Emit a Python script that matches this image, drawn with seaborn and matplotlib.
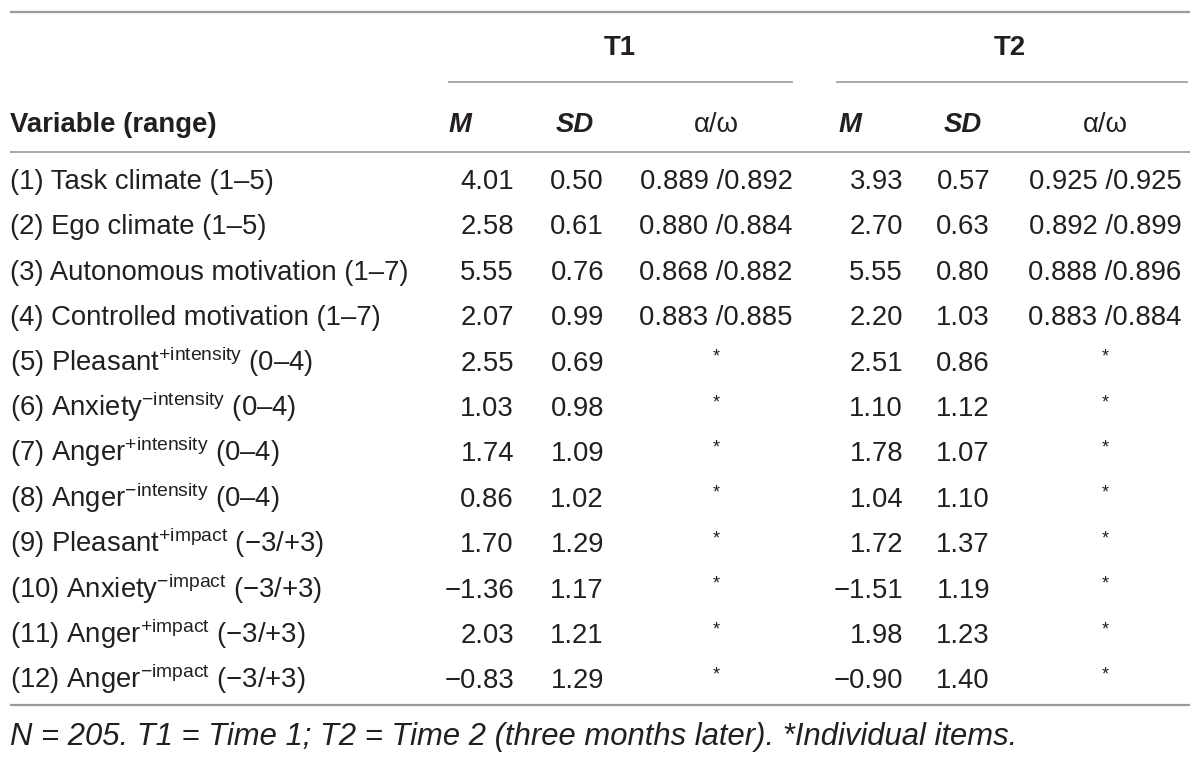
import matplotlib
matplotlib.use("Agg")
import matplotlib.pyplot as plt
import seaborn as sns

# Table content
variables = ["Task climate", "Ego climate", "Autonomous motivation", "Controlled motivation",
             "Pleasant", "Anxiety", "Anger", "Anger",
             "Pleasant", "Anxiety", "Anger", "Anger"]
signs = ["", "", "", "", "+", "−", "+", "−", "+", "−", "+", "−"]
kinds = ["", "", "", "", "intensity", "intensity", "intensity", "intensity",
         "impact", "impact", "impact", "impact"]
ranges = ["(1–5)", "(1–5)", "(1–7)", "(1–7)", "(0–4)", "(0–4)", "(0–4)", "(0–4)",
          "(−3/+3)", "(−3/+3)", "(−3/+3)", "(−3/+3)"]
m_t1 = ["4.01", "2.58", "5.55", "2.07", "2.55", "1.03", "1.74", "0.86", "1.70", "−1.36", "2.03", "−0.83"]
sd_t1 = ["0.50", "0.61", "0.76", "0.99", "0.69", "0.98", "1.09", "1.02", "1.29", "1.17", "1.21", "1.29"]
aw_t1 = ["0.889 /0.892", "0.880 /0.884", "0.868 /0.882", "0.883 /0.885"] + ["*"] * 8
m_t2 = ["3.93", "2.70", "5.55", "2.20", "2.51", "1.10", "1.78", "1.04", "1.72", "−1.51", "1.98", "−0.90"]
sd_t2 = ["0.57", "0.63", "0.80", "1.03", "0.86", "1.12", "1.07", "1.10", "1.37", "1.19", "1.23", "1.40"]
aw_t2 = ["0.925 /0.925", "0.892 /0.899", "0.888 /0.896", "0.883 /0.884"] + ["*"] * 8
note = "N = 205. T1 = Time 1; T2 = Time 2 (three months later). *Individual items."

sns.set_theme(style="white")
plt.rcParams['font.family'] = ['Liberation Sans', 'DejaVu Sans']
plt.rcParams['mathtext.fontset'] = 'custom'
plt.rcParams['mathtext.rm'] = 'Liberation Sans'
plt.rcParams['mathtext.it'] = 'Liberation Sans:italic'

txt = "#231f20"
line = "#9a9a9a"
fs = 19.8

fig, ax = plt.subplots(figsize=(12, 7.62), dpi=100)
fig.subplots_adjust(0, 0, 1, 1)
ax.set_xlim(0, 1200)
ax.set_ylim(762, 0)
ax.axis("off")

# rules
ax.hlines(12, 10, 1190, color=line, lw=1.6)
ax.hlines(82, 448, 793, color=line, lw=1.2)
ax.hlines(82, 836, 1188, color=line, lw=1.2)
ax.hlines(152, 10, 1190, color=line, lw=1.2)
ax.hlines(705, 10, 1190, color=line, lw=1.6)

# headers
ax.text(620, 48, "T1", fontsize=fs, weight="bold", ha="center", va="center", color=txt)
ax.text(1010, 48, "T2", fontsize=fs, weight="bold", ha="center", va="center", color=txt)
ax.text(10, 125, "Variable (range)", fontsize=fs, weight="bold", ha="left", va="center", color=txt)
for x, lab in [(460, "M"), (575, "SD"), (850, "M"), (963, "SD")]:
    ax.text(x, 125, lab, fontsize=fs, weight="bold", style="italic", ha="center", va="center", color=txt)
for x in [716, 1105]:
    ax.text(x, 125, "α/ω", fontsize=fs, ha="center", va="center", color=txt)

# body rows
y0, dy = 182, 45.4
for i in range(len(variables)):
    y = y0 + i * dy
    if kinds[i]:
        label = f"({i + 1}) {variables[i]}$^{{\\mathrm{{{signs[i]}{kinds[i]}}}}}$ {ranges[i]}"
        ax.text(10, y, label, fontsize=fs, ha="left", va="baseline", color=txt,
                transform=ax.transData + matplotlib.transforms.ScaledTranslation(0, -0.07, fig.dpi_scale_trans))
    else:
        label = f"({i + 1}) {variables[i]} {ranges[i]}"
        ax.text(10, y, label, fontsize=fs, ha="left", va="baseline", color=txt,
                transform=ax.transData + matplotlib.transforms.ScaledTranslation(0, -0.07, fig.dpi_scale_trans))
    for x, col in [(514, m_t1), (604, sd_t1), (903, m_t2), (990, sd_t2)]:
        ax.text(x, y, col[i], fontsize=fs, ha="right", va="center", color=txt)
    for x, col in [(716, aw_t1), (1105, aw_t2)]:
        if col[i] == "*":
            ax.text(x, y + 2, "*", fontsize=13, ha="center", va="bottom", color=txt)
        else:
            ax.text(x, y, col[i], fontsize=fs, ha="center", va="center", color=txt)

ax.text(10, 737, note, fontsize=22.3, style="italic", ha="left", va="center", color=txt)

fig.savefig("out.png", dpi=100)
